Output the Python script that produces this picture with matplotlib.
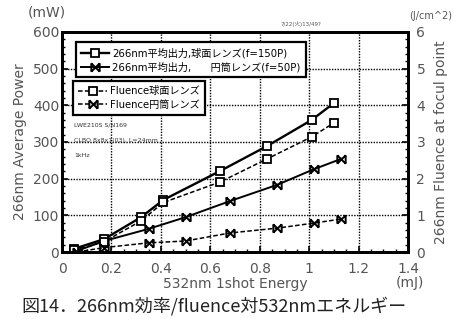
import numpy as np
import matplotlib.pyplot as plt
from matplotlib.path import Path
from matplotlib.ticker import MultipleLocator

plt.rcParams['font.family'] = ['DejaVu Sans', 'Noto Sans CJK JP']

# data
energy_sq = [0.05, 0.17, 0.32, 0.41, 0.64, 0.83, 1.01, 1.10]
power_sq = [9, 35, 95, 142, 221, 289, 360, 406]
fluence_sq = [0.05, 0.28, 0.85, 1.35, 1.91, 2.54, 3.14, 3.52]

energy_x = [0.06, 0.17, 0.35, 0.50, 0.68, 0.87, 1.02, 1.13]
power_x = [3, 30, 63, 95, 139, 183, 226, 254]
fluence_x = [0.0, 0.12, 0.25, 0.30, 0.52, 0.65, 0.79, 0.90]

labels_power = ['266nm平均出力,球面レンズ(f=150P)', '266nm平均出力,      円筒レンズ(f=50P)']
labels_fluence = ['Fluence球面レンズ', 'Fluence円筒レンズ']

# bow-tie marker |X|
bowtie = Path([(-1, -1), (1, 1), (-1, 1), (1, -1), (-1, -1), (-1, 1), (1, -1), (1, 1)],
              [Path.MOVETO, Path.LINETO, Path.MOVETO, Path.LINETO,
               Path.MOVETO, Path.LINETO, Path.MOVETO, Path.LINETO])

fig = plt.figure(figsize=(4.56, 3.19), dpi=100)
ax = fig.add_axes([0.136, 0.21, 0.759, 0.69])
ax2 = ax.twinx()

sq_kw = dict(marker='s', markersize=6, markerfacecolor='white', markeredgecolor='black', markeredgewidth=1.3)
x_kw = dict(marker=bowtie, markersize=6, markeredgecolor='black', markeredgewidth=1.4)

l1, = ax.plot(energy_sq, power_sq, '-', color='black', lw=1.7, **sq_kw)
l2, = ax.plot(energy_x, power_x, '-', color='black', lw=1.4, **x_kw)
l3, = ax2.plot(energy_sq, fluence_sq, '--', color='black', lw=1.1, dashes=(3, 1.5), **sq_kw)
l4, = ax2.plot(energy_x, fluence_x, '--', color='black', lw=1.1, dashes=(3, 1.5), **x_kw)

ax.set_xlim(0, 1.4)
ax.set_ylim(0, 600)
ax2.set_ylim(0, 6)
ax.xaxis.set_minor_locator(MultipleLocator(0.05))
ax.yaxis.set_major_locator(MultipleLocator(100))
ax.yaxis.set_minor_locator(MultipleLocator(20))
ax2.yaxis.set_major_locator(MultipleLocator(1))
ax2.yaxis.set_minor_locator(MultipleLocator(0.2))
ax.set_xticks([0, 0.2, 0.4, 0.6, 0.8, 1.0, 1.2, 1.4])
ax.set_xticklabels(['0', '0.2', '0.4', '0.6', '0.8', '1', '1.2', '1.4'])

for a in (ax, ax2):
    a.tick_params(which='both', direction='in', color='black', labelcolor='#555555', labelsize=10)
    a.tick_params(which='major', length=4, width=1.2)
    a.tick_params(which='minor', length=2.5, width=1)
    for s in a.spines.values():
        s.set_linewidth(2.0)
ax.tick_params(axis='x', pad=7)
ax.tick_params(axis='y', pad=2)
ax2.tick_params(axis='y', pad=6)

ax.grid(True, which='major', color='black', linestyle=(0, (1, 1)), linewidth=1.0)

ax.set_xlabel('532nm 1shot Energy', fontsize=10, color='#555555', labelpad=1)
ax.set_ylabel('266nm Average Power', fontsize=10, color='#555555', labelpad=4)
ax2.set_ylabel('266nm Fluence at focul point', fontsize=10, color='#555555', labelpad=6)

fig.text(0.06, 0.96, '(mW)', fontsize=10, color='#555555', ha='left', va='center')
fig.text(0.945, 0.95, '(J/cm^2)', fontsize=7, color='#555555', ha='center', va='center')
fig.text(0.868, 0.113, '(mJ)', fontsize=10, color='#555555', ha='left', va='center')
fig.text(0.66, 0.925, '7/22(火)13/49?', fontsize=4, color='#555555', ha='center', va='center')

ax.text(0.035, 0.57, 'LWE210S S/N169', transform=ax.transAxes, fontsize=4.5, color='#333333')
ax.text(0.035, 0.50, 'CLBO 8x8x7(03), L=24mm', transform=ax.transAxes, fontsize=4.5, color='#333333')
ax.text(0.035, 0.43, '1kHz', transform=ax.transAxes, fontsize=4.5, color='#333333')

leg_kw = dict(frameon=True, fancybox=False, edgecolor='black', framealpha=1,
              handlelength=2.8, borderpad=0.5, labelspacing=0.35, handletextpad=0.3,
              prop={'family': ['DejaVu Sans', 'Noto Sans CJK JP'], 'size': 7.3})
leg1 = ax2.legend([l1, l2], labels_power, loc='upper left', bbox_to_anchor=(0.025, 0.975), **leg_kw)
leg1.get_frame().set_linewidth(1.6)
ax2.add_artist(leg1)
leg2 = ax2.legend([l3, l4], labels_fluence, loc='upper left', bbox_to_anchor=(0.018, 0.8), **leg_kw)
leg2.get_frame().set_linewidth(1.6)

fig.text(0.47, 0.04, '図14．266nm効率/fluence対532nmエネルギー', fontsize=13, color='#222222',
         ha='center', va='center', family=['Noto Sans CJK JP', 'DejaVu Sans'])

fig.savefig('out.png', dpi=100)
